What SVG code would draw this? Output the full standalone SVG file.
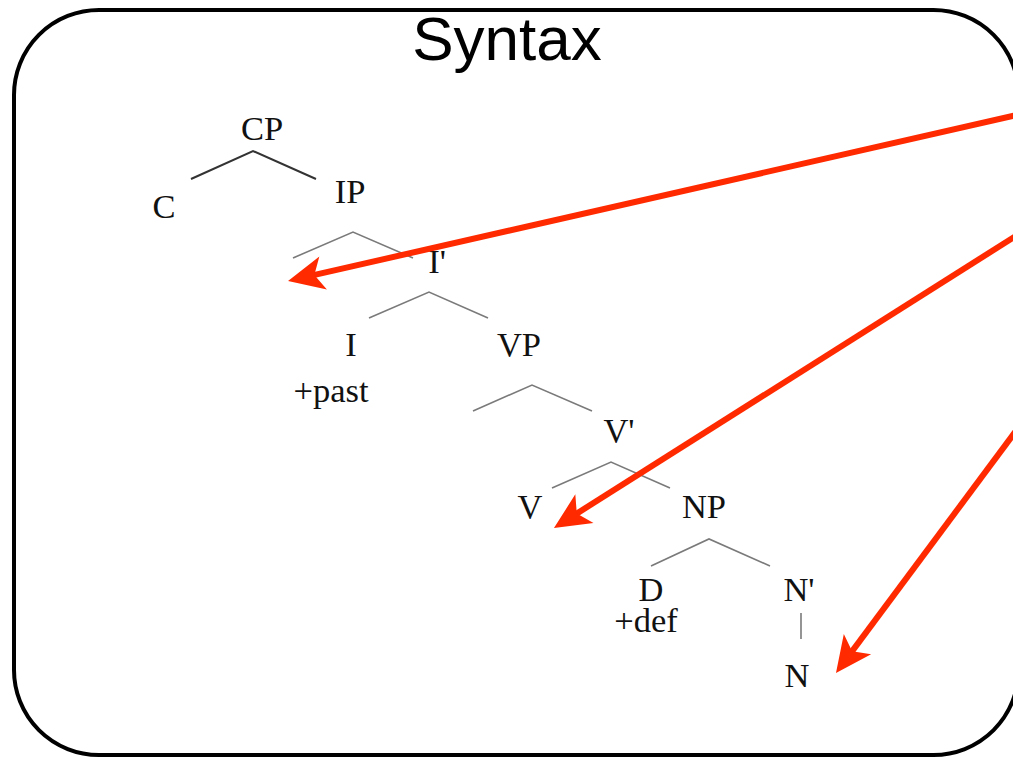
<svg xmlns="http://www.w3.org/2000/svg" width="1013" height="758" viewBox="0 0 1013 758">
<style>
.lbl{font-family:"Liberation Serif","Times New Roman",serif;font-size:34.5px;fill:#111;text-anchor:middle}
.br{stroke:#7a7a7a;stroke-width:1.6;fill:none}
.brd{stroke:#333;stroke-width:2;fill:none}
.arr{stroke:#ff2a00;stroke-width:6;fill:none;marker-end:url(#head)}
.title{font-family:"Liberation Sans",Arial,sans-serif;font-size:62px;fill:#000;text-anchor:middle}
</style>
<defs>
<marker id="head" markerUnits="userSpaceOnUse" viewBox="-2 -20 42 40" markerWidth="42" markerHeight="40" refX="11" refY="0" orient="auto">
<path d="M36,0 L0,-17 L9,0 L0,17 Z" fill="#ff2a00"/>
</marker>
</defs>
<rect x="14" y="10" width="1004.5" height="745" rx="85" ry="85" fill="#fff" stroke="#000" stroke-width="4"/>
<text class="title" x="507" y="60">Syntax</text>
<g id="tree-lines">
<polyline class="brd" points="191,179 253,151 316,179"/>
<polyline class="br" points="293,258 353,232 413,258"/>
<polyline class="br" points="369,318 429,292 488,318"/>
<polyline class="br" points="473,411 532,385 592,411"/>
<polyline class="br" points="552,488 611,462 670,488"/>
<polyline class="br" points="651,566 709,539 770,566"/>
<line class="br" x1="801" y1="613" x2="801" y2="639"/>
</g>
<g id="CP"><text class="lbl" x="262" y="140">CP</text></g>
<g id="C"><text class="lbl" x="164" y="218">C</text></g>
<g id="IP"><text class="lbl" x="350" y="203">IP</text></g>
<g id="Ibar"><text class="lbl" x="437" y="273">I'</text></g>
<g id="I"><text class="lbl" x="351" y="356">I</text></g>
<g id="past"><text class="lbl" x="331" y="402">+past</text></g>
<g id="VP"><text class="lbl" x="519" y="356">VP</text></g>
<g id="Vbar"><text class="lbl" x="619" y="442">V'</text></g>
<g id="V"><text class="lbl" x="530" y="518">V</text></g>
<g id="NP"><text class="lbl" x="704" y="518">NP</text></g>
<g id="D"><text class="lbl" x="651" y="601">D</text></g>
<g id="def"><text class="lbl" x="646" y="632">+def</text></g>
<g id="Nbar"><text class="lbl" x="799" y="601">N'</text></g>
<g id="N"><text class="lbl" x="797" y="687">N</text></g>
<g id="connectors">
<line class="arr" x1="1030" y1="112" x2="312.4" y2="275.4"/>
<line class="arr" x1="1030" y1="227" x2="575.1" y2="514.6"/>
<line class="arr" x1="1030" y1="412" x2="850.9" y2="652.9"/>
</g>
</svg>
